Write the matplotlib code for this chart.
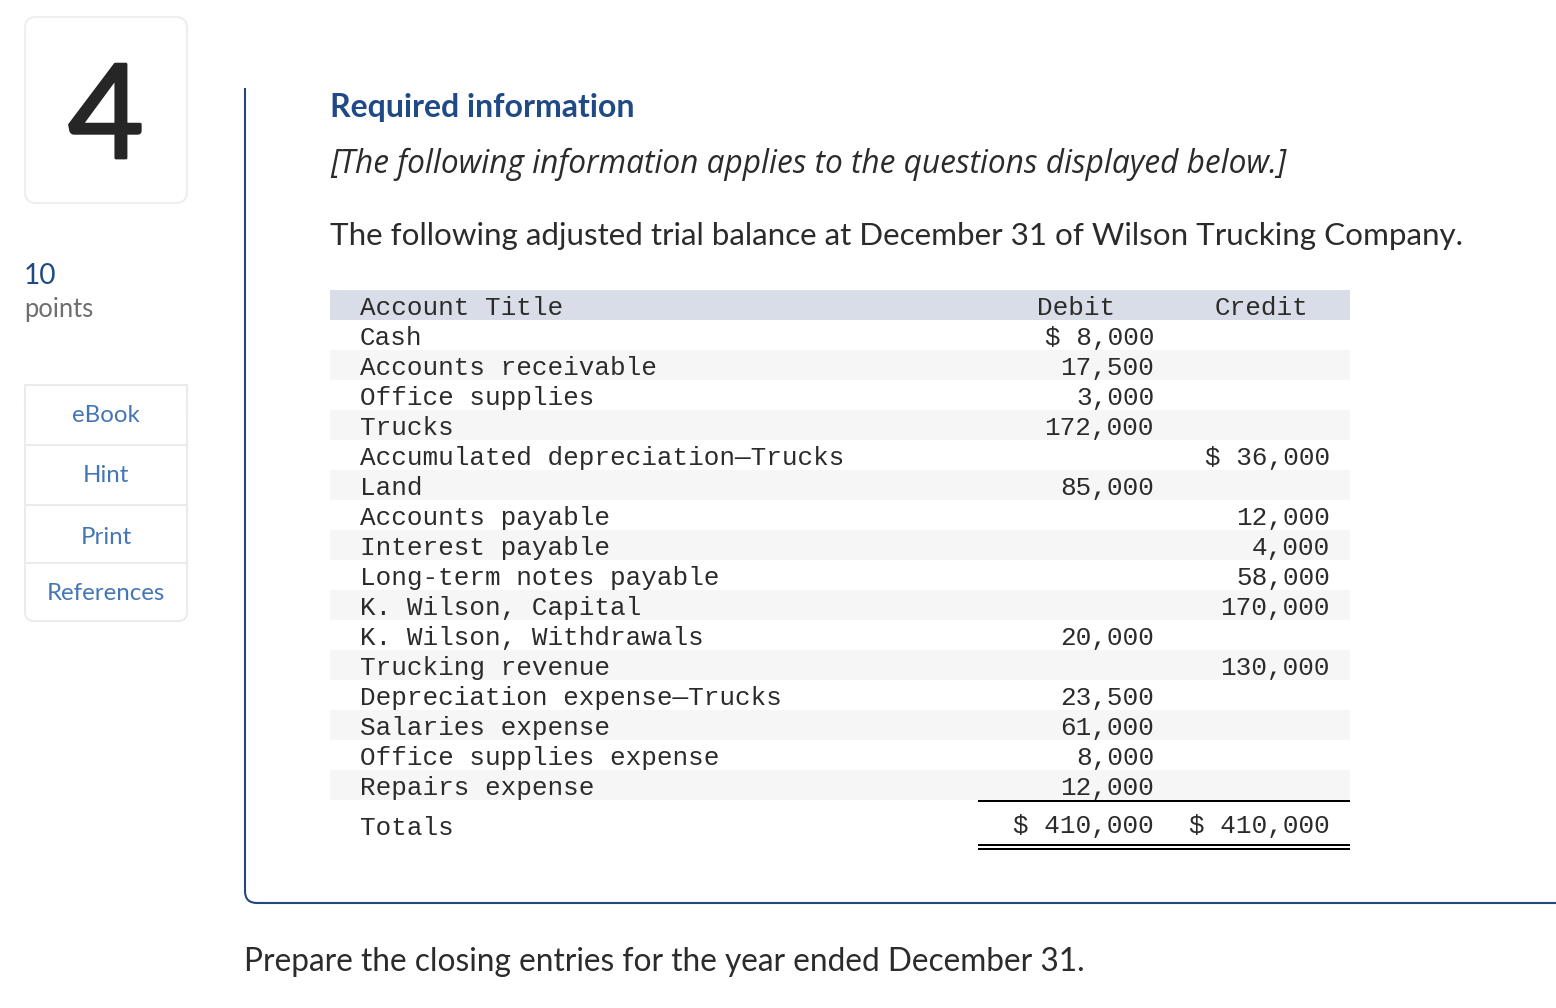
import matplotlib
matplotlib.use('Agg')
import matplotlib.pyplot as plt
import matplotlib.patheffects as pe
from matplotlib.patches import FancyBboxPatch, PathPatch, Rectangle
from matplotlib.path import Path

# Trial balance data
accounts = ['Cash', 'Accounts receivable', 'Office supplies', 'Trucks',
            'Accumulated depreciation—Trucks', 'Land', 'Accounts payable',
            'Interest payable', 'Long-term notes payable', 'K. Wilson, Capital',
            'K. Wilson, Withdrawals', 'Trucking revenue',
            'Depreciation expense—Trucks', 'Salaries expense',
            'Office supplies expense', 'Repairs expense']
debits = ['$ 8,000', '17,500', '3,000', '172,000', '', '85,000', '', '', '', '',
          '20,000', '', '23,500', '61,000', '8,000', '12,000']
credits = ['', '', '', '', '$ 36,000', '', '12,000', '4,000', '58,000', '170,000',
           '', '130,000', '', '', '', '']
headers = ['Account Title', 'Debit', 'Credit']
totals = ['Totals', '$ 410,000', '$ 410,000']
side_links = ['eBook', 'Hint', 'Print', 'References']
side_link_y = [416, 476, 538, 594]
side_dividers = [445, 505, 563]

SANS = 'Lato'
MONO = 'Liberation Mono'
BLUE = '#1f4a85'
LINK = '#4476b5'
TEXT = '#2b2b2b'
BORDER = '#ebebeb'


def px(size):
    # font size given in pixels, converted to points at dpi 100
    return size * 0.72


fig = plt.figure(figsize=(15.56, 10.08), dpi=100, facecolor='white')
ax = fig.add_axes([0, 0, 1, 1])
ax.set_xlim(0, 1556)
ax.set_ylim(1008, 0)
ax.axis('off')

# Question number box
ax.add_patch(FancyBboxPatch((25, 17), 162, 186, boxstyle='round,pad=0,rounding_size=11',
                            fc='white', ec='#eeeeee', lw=1.5))
ax.text(106, 158, '4', fontsize=px(131), family=SANS, color='#262626',
        ha='center', va='baseline',
        path_effects=[pe.withStroke(linewidth=2, foreground='#262626', capstyle='round')])

ax.text(24, 276, '10', fontsize=px(28), family=SANS, color=BLUE, va='center')
ax.text(24, 309, 'points', fontsize=px(25.5), family=SANS, color='#6e6e6e', va='center')

# Side links
ax.add_patch(FancyBboxPatch((25, 385), 162, 236, boxstyle='round,pad=0,rounding_size=9',
                            fc='white', ec=BORDER, lw=1.5))
ax.add_patch(Rectangle((25, 385), 162, 20, fc='white', ec='none'))
ax.plot([25, 187], [385, 385], color=BORDER, lw=1.5)
ax.plot([25, 25], [385, 410], color=BORDER, lw=1.5)
ax.plot([187, 187], [385, 410], color=BORDER, lw=1.5)
for y in side_dividers:
    ax.plot([25, 187], [y, y], color=BORDER, lw=1.5)
for name, y in zip(side_links, side_link_y):
    ax.text(106, y, name, fontsize=px(24), family=SANS, color=LINK, ha='center', va='center')

# Panel outline
panel = Path([(245, 88), (245, 891), (245, 903), (257, 903), (1556, 903)],
             [Path.MOVETO, Path.LINETO, Path.CURVE3, Path.CURVE3, Path.LINETO])
ax.add_patch(PathPatch(panel, fc='none', ec='#23487f', lw=1.5))

ax.text(330, 108, 'Required information', fontsize=px(32), family=SANS, weight='bold',
        color=BLUE, va='center')
ax.text(330, 164, '[The following information applies to the questions displayed below.]',
        fontsize=px(31.7), family='Open Sans', style='italic', color=TEXT, va='center')
ax.text(330, 236, 'The following adjusted trial balance at December 31 of Wilson Trucking Company.',
        fontsize=px(31.35), family=SANS, color=TEXT, va='center')
ax.text(244, 962, 'Prepare the closing entries for the year ended December 31.',
        fontsize=px(31.7), family=SANS, color=TEXT, va='center')

# Table
ax.add_patch(Rectangle((330, 290), 1020, 30, fc='#d9dde7', ec='none'))
ax.text(360, 315, headers[0], fontsize=px(26), family=MONO, color=TEXT, va='baseline')
ax.text(1037, 315, headers[1], fontsize=px(26), family=MONO, color=TEXT, va='baseline')
ax.text(1215, 315, headers[2], fontsize=px(26), family=MONO, color=TEXT, va='baseline')

for i, (name, deb, cred) in enumerate(zip(accounts, debits, credits)):
    top = 320 + i * 30
    if i % 2 == 1:
        ax.add_patch(Rectangle((330, top), 1020, 30, fc='#f6f6f6', ec='none'))
    y = top + 25
    ax.text(360, y, name, fontsize=px(26), family=MONO, color=TEXT, va='baseline')
    ax.text(1154, y, deb, fontsize=px(26), family=MONO, color=TEXT, va='baseline', ha='right')
    ax.text(1330, y, cred, fontsize=px(26), family=MONO, color=TEXT, va='baseline', ha='right')

ax.text(360, 835, totals[0], fontsize=px(26), family=MONO, color=TEXT, va='baseline')
ax.text(1154, 833, totals[1], fontsize=px(26), family=MONO, color=TEXT, va='baseline', ha='right')
ax.text(1330, 833, totals[2], fontsize=px(26), family=MONO, color=TEXT, va='baseline', ha='right')

ax.plot([978, 1350], [801, 801], color='black', lw=1.44, solid_capstyle='butt')
ax.plot([978, 1350], [845, 845], color='black', lw=1.44, solid_capstyle='butt')
ax.plot([978, 1350], [849, 849], color='black', lw=1.44, solid_capstyle='butt')

fig.savefig('out.png', dpi=100, facecolor='white')
